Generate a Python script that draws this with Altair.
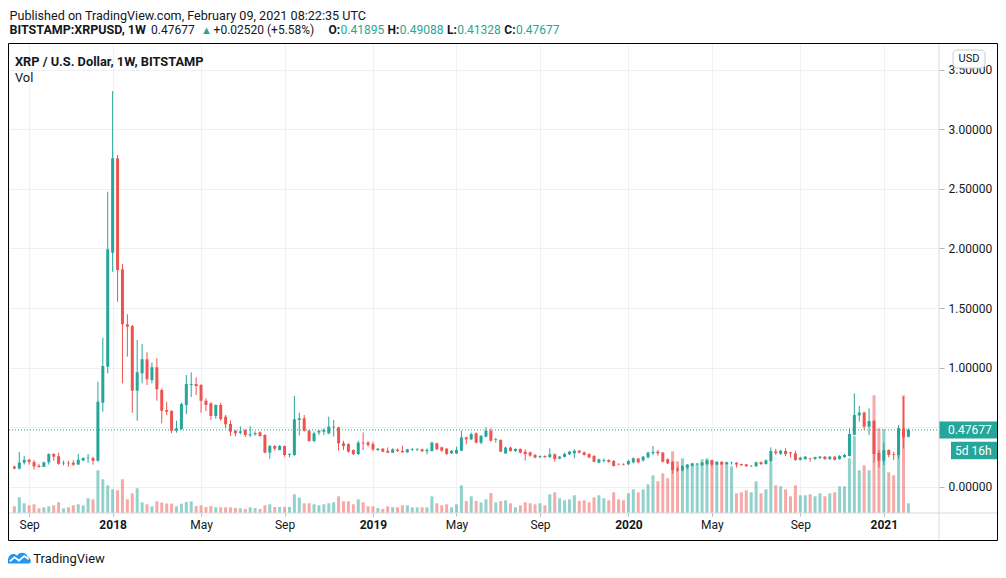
import altair as alt
import pandas as pd

# ---------------- data (weekly XRP/USD, Bitstamp) ----------------
week_start = "2017-08-14"

opens = [0.168, 0.152, 0.202, 0.226, 0.207, 0.176, 0.166, 0.205, 0.275, 0.256,
         0.196, 0.201, 0.201, 0.186, 0.220, 0.240, 0.241, 0.218, 0.705, 1.008,
         1.965, 2.757, 1.825, 1.364, 1.349, 0.806, 0.952, 1.070, 0.896, 1.003,
         0.812, 0.644, 0.636, 0.470, 0.484, 0.686, 0.854, 0.862, 0.854, 0.722,
         0.700, 0.594, 0.686, 0.588, 0.527, 0.470, 0.452, 0.476, 0.431, 0.440,
         0.457, 0.434, 0.286, 0.342, 0.308, 0.342, 0.268, 0.266, 0.560, 0.574,
         0.470, 0.384, 0.455, 0.462, 0.448, 0.498, 0.498, 0.364, 0.358, 0.308,
         0.274, 0.370, 0.370, 0.358, 0.308, 0.319, 0.302, 0.286, 0.311, 0.300,
         0.289, 0.310, 0.312, 0.314, 0.298, 0.300, 0.364, 0.331, 0.320, 0.280,
         0.280, 0.302, 0.414, 0.398, 0.448, 0.370, 0.420, 0.470, 0.392, 0.392,
         0.280, 0.328, 0.300, 0.317, 0.294, 0.289, 0.266, 0.250, 0.258, 0.248,
         0.272, 0.236, 0.250, 0.272, 0.280, 0.302, 0.289, 0.275, 0.258, 0.202,
         0.218, 0.224, 0.216, 0.191, 0.190, 0.188, 0.205, 0.236, 0.221, 0.246,
         0.282, 0.294, 0.286, 0.230, 0.208, 0.150, 0.138, 0.160, 0.176, 0.188,
         0.180, 0.190, 0.222, 0.186, 0.210, 0.190, 0.198, 0.202, 0.190, 0.188,
         0.172, 0.172, 0.206, 0.190, 0.212, 0.296, 0.277, 0.300, 0.288, 0.280,
         0.226, 0.232, 0.240, 0.232, 0.240, 0.252, 0.232, 0.252, 0.232, 0.248,
         0.258, 0.436, 0.598, 0.622, 0.504, 0.552, 0.285, 0.218, 0.308, 0.272,
         0.266, 0.490, 0.41895]

highs = [0.178, 0.291, 0.258, 0.235, 0.224, 0.193, 0.210, 0.280, 0.280, 0.285,
         0.218, 0.218, 0.224, 0.275, 0.245, 0.275, 0.252, 0.882, 1.251, 2.477,
         3.322, 2.785, 1.870, 1.448, 1.358, 1.232, 1.197, 1.129, 1.042, 1.079,
         0.826, 0.714, 0.642, 0.554, 0.705, 0.938, 0.960, 0.918, 0.862, 0.742,
         0.709, 0.690, 0.705, 0.602, 0.557, 0.476, 0.507, 0.482, 0.507, 0.465,
         0.465, 0.442, 0.350, 0.350, 0.350, 0.346, 0.280, 0.762, 0.622, 0.602,
         0.480, 0.462, 0.476, 0.490, 0.588, 0.560, 0.504, 0.386, 0.364, 0.314,
         0.386, 0.456, 0.384, 0.378, 0.325, 0.325, 0.330, 0.322, 0.322, 0.345,
         0.318, 0.325, 0.322, 0.320, 0.322, 0.378, 0.370, 0.336, 0.322, 0.308,
         0.336, 0.470, 0.420, 0.454, 0.456, 0.434, 0.499, 0.490, 0.410, 0.398,
         0.336, 0.336, 0.322, 0.322, 0.314, 0.294, 0.275, 0.261, 0.264, 0.322,
         0.280, 0.258, 0.286, 0.300, 0.314, 0.308, 0.294, 0.280, 0.266, 0.236,
         0.236, 0.230, 0.224, 0.196, 0.196, 0.224, 0.246, 0.242, 0.258, 0.294,
         0.342, 0.308, 0.292, 0.238, 0.216, 0.168, 0.180, 0.190, 0.200, 0.200,
         0.208, 0.226, 0.228, 0.212, 0.213, 0.210, 0.210, 0.206, 0.194, 0.190,
         0.180, 0.210, 0.212, 0.228, 0.330, 0.318, 0.310, 0.322, 0.294, 0.302,
         0.252, 0.258, 0.244, 0.252, 0.258, 0.258, 0.258, 0.258, 0.266, 0.275,
         0.490, 0.784, 0.678, 0.630, 0.658, 0.560, 0.308, 0.370, 0.314, 0.294,
         0.518, 0.756, 0.49088]

lows = [0.147, 0.145, 0.185, 0.185, 0.143, 0.160, 0.166, 0.185, 0.218, 0.185,
        0.179, 0.168, 0.174, 0.185, 0.214, 0.201, 0.185, 0.210, 0.630, 0.952,
        1.805, 1.553, 0.868, 1.092, 0.621, 0.554, 0.868, 0.854, 0.868, 0.722,
        0.532, 0.602, 0.449, 0.454, 0.479, 0.610, 0.753, 0.770, 0.621, 0.635,
        0.560, 0.571, 0.554, 0.490, 0.425, 0.423, 0.440, 0.418, 0.418, 0.428,
        0.420, 0.281, 0.235, 0.302, 0.305, 0.252, 0.247, 0.258, 0.430, 0.462,
        0.378, 0.372, 0.434, 0.434, 0.440, 0.420, 0.302, 0.308, 0.286, 0.266,
        0.266, 0.308, 0.336, 0.300, 0.300, 0.290, 0.281, 0.283, 0.292, 0.285,
        0.285, 0.300, 0.300, 0.292, 0.272, 0.294, 0.308, 0.294, 0.266, 0.275,
        0.275, 0.300, 0.356, 0.392, 0.364, 0.356, 0.414, 0.378, 0.370, 0.291,
        0.275, 0.294, 0.291, 0.280, 0.219, 0.252, 0.238, 0.238, 0.243, 0.243,
        0.210, 0.230, 0.246, 0.266, 0.238, 0.280, 0.261, 0.238, 0.205, 0.196,
        0.202, 0.202, 0.168, 0.180, 0.180, 0.182, 0.196, 0.196, 0.210, 0.238,
        0.266, 0.261, 0.205, 0.191, 0.107, 0.126, 0.130, 0.145, 0.170, 0.180,
        0.174, 0.178, 0.168, 0.182, 0.184, 0.185, 0.185, 0.160, 0.177, 0.167,
        0.165, 0.168, 0.182, 0.186, 0.198, 0.266, 0.266, 0.258, 0.246, 0.216,
        0.220, 0.226, 0.210, 0.226, 0.233, 0.226, 0.226, 0.220, 0.226, 0.244,
        0.252, 0.430, 0.546, 0.476, 0.434, 0.202, 0.163, 0.182, 0.246, 0.224,
        0.238, 0.322, 0.41328]

closes = [0.152, 0.202, 0.226, 0.207, 0.170, 0.165, 0.205, 0.275, 0.252, 0.192,
          0.201, 0.196, 0.185, 0.226, 0.241, 0.245, 0.218, 0.714, 1.013, 1.993,
          2.757, 1.819, 1.364, 1.343, 0.806, 0.961, 1.070, 0.902, 1.003, 0.818,
          0.638, 0.630, 0.470, 0.490, 0.694, 0.862, 0.862, 0.845, 0.722, 0.686,
          0.594, 0.686, 0.568, 0.524, 0.462, 0.448, 0.465, 0.434, 0.440, 0.450,
          0.426, 0.286, 0.342, 0.319, 0.342, 0.266, 0.275, 0.566, 0.574, 0.468,
          0.384, 0.448, 0.470, 0.476, 0.504, 0.504, 0.364, 0.342, 0.294, 0.274,
          0.370, 0.364, 0.350, 0.314, 0.319, 0.294, 0.286, 0.314, 0.300, 0.289,
          0.314, 0.315, 0.318, 0.298, 0.308, 0.370, 0.314, 0.302, 0.275, 0.302,
          0.308, 0.414, 0.398, 0.442, 0.370, 0.426, 0.470, 0.386, 0.398, 0.294,
          0.328, 0.300, 0.317, 0.286, 0.272, 0.261, 0.244, 0.258, 0.248, 0.272,
          0.233, 0.252, 0.275, 0.294, 0.302, 0.286, 0.266, 0.246, 0.210, 0.230,
          0.224, 0.208, 0.174, 0.188, 0.186, 0.216, 0.238, 0.205, 0.252, 0.286,
          0.292, 0.280, 0.210, 0.196, 0.140, 0.138, 0.172, 0.182, 0.196, 0.194,
          0.202, 0.222, 0.186, 0.210, 0.187, 0.205, 0.202, 0.186, 0.180, 0.172,
          0.176, 0.205, 0.190, 0.222, 0.300, 0.282, 0.302, 0.274, 0.280, 0.224,
          0.244, 0.252, 0.236, 0.248, 0.252, 0.232, 0.252, 0.226, 0.258, 0.266,
          0.442, 0.602, 0.622, 0.504, 0.552, 0.274, 0.218, 0.308, 0.266, 0.266,
          0.490, 0.414, 0.47677]

# relative weekly volume (read as bar heights)
volumes = [6.7, 15.7, 9.7, 7.7, 8.7, 4.7, 5.7, 6.7, 7.7, 10.7,
           4.7, 5.7, 7.7, 8.7, 7.7, 14.7, 13.7, 42.7, 33.7, 27.7,
           23.7, 22.7, 33.7, 13.7, 19.7, 24.7, 10.7, 8.7, 6.7, 11.7,
           10.5, 9.5, 9.5, 6.7, 9.3, 11.0, 11.7, 7.0, 7.7, 6.0,
           7.0, 5.7, 5.7, 5.7, 5.7, 5.0, 4.7, 4.0, 5.7, 5.0,
           4.0, 7.7, 8.7, 6.0, 6.0, 6.0, 6.0, 18.7, 15.3, 9.7,
           9.7, 8.7, 7.7, 8.7, 9.7, 10.7, 16.7, 11.7, 11.7, 8.7,
           13.7, 10.7, 6.7, 6.7, 5.0, 4.0, 6.7, 5.8, 5.7, 7.7,
           7.7, 5.7, 5.7, 5.7, 5.7, 16.7, 9.7, 7.7, 8.7, 5.7,
           8.7, 27.7, 12.0, 16.7, 12.0, 10.7, 13.7, 20.0, 10.7, 12.0,
           12.7, 9.7, 5.7, 7.7, 10.7, 9.7, 8.7, 9.7, 7.7, 18.7,
           20.7, 14.7, 12.7, 13.7, 17.7, 12.2, 12.7, 10.7, 15.7, 17.7,
           14.7, 12.7, 20.7, 13.7, 12.7, 19.7, 23.7, 20.7, 23.7, 28.7,
           37.7, 31.7, 39.7, 34.7, 61.7, 51.7, 54.7, 48.7, 48.7, 48.7,
           53.7, 54.7, 52.7, 50.7, 50.7, 50.7, 46.7, 19.7, 20.7, 22.7,
           20.7, 31.7, 19.7, 23.7, 50.0, 27.7, 26.7, 23.7, 16.7, 27.7,
           17.7, 17.7, 18.7, 16.7, 19.7, 16.7, 19.7, 20.7, 26.7, 26.7,
           54.7, 76.7, 42.7, 47.7, 42.7, 117.7, 84.7, 83.7, 40.7, 37.7,
           84.7, 117.7, 9.7]

price_ticks = [0.0, 0.5, 1.0, 1.5, 2.0, 2.5, 3.0, 3.5]
time_ticks = ["2017-09-04", "2018-01-01", "2018-05-07", "2018-09-03", "2019-01-07",
              "2019-05-06", "2019-09-02", "2020-01-06", "2020-05-04", "2020-09-07",
              "2021-01-04"]

# ---------------- styling ----------------
UP = "#26a69a"
DOWN = "#ef5350"
TXT = "#131722"
GRID = "#eef0f4"
SEP = "#d6d9e0"
FONT = "Roboto"

n = len(closes)
dates = pd.date_range(week_start, periods=n, freq="7D").strftime("%Y-%m-%dT00:00:00Z")
df = pd.DataFrame({"date": list(dates), "open": opens, "high": highs, "low": lows,
                   "close": closes, "volume": volumes})
df["dir"] = ["up" if c >= o else "down" for o, c in zip(opens, closes)]


def ms(s):
    return int(pd.Timestamp(s, tz="UTC").value // 10**6)


W, H = 930, 470
xscale = alt.Scale(type="utc", domain=[ms("2017-08-13 10:19"), ms("2021-03-16 12:00")])
pscale = alt.Scale(domain=[-0.2208, 3.7254], nice=False, zero=False)
vscale = alt.Scale(domain=[0, 470], nice=False, zero=True)
cscale = alt.Scale(domain=["up", "down"], range=[UP, DOWN])

x_axis = alt.Axis(
    values=[ms(d) for d in time_ticks],
    labelExpr="utcmonth(datum.value) == 0 ? utcFormat(datum.value, '%Y') : utcFormat(datum.value, '%b')",
    labelFontWeight={"condition": {"test": "utcmonth(datum.value) == 0", "value": "bold"},
                     "value": "normal"},
    grid=True, gridColor=GRID, domain=False, ticks=True, tickSize=3, tickColor="#b2b5be",
    labelFont=FONT, labelFontSize=12, labelColor=TXT, labelPadding=3,
    labelFlush=False, labelOverlap=False, title=None)

# the 0.5 label sits under the last-price tag (hidden there in the original as well)
p_axis = alt.Axis(
    orient="right", values=price_ticks,
    labelExpr=f"abs(datum.value - {closes[-1]}) < 0.1 ? '' : format(datum.value, '.5f')",
    grid=True, gridColor=GRID,
    domain=False, ticks=True, tickSize=5, tickColor="#b2b5be",
    labelFont=FONT, labelFontSize=12, labelColor=TXT, labelPadding=4, title=None)

X = alt.X("date:T", scale=xscale, axis=x_axis)
color = alt.Color("dir:N", scale=cscale, legend=None)

vol = alt.Chart(df).mark_bar(size=3, opacity=0.5).encode(
    x=X, y=alt.Y("volume:Q", scale=vscale, axis=None), color=color)

wicks = alt.Chart(df).mark_rule(strokeWidth=1).encode(
    x=X, y=alt.Y("low:Q", scale=pscale, axis=p_axis), y2="high:Q", color=color)

bodies = alt.Chart(df).mark_bar(size=3).encode(
    x=X, y=alt.Y("open:Q", scale=pscale, axis=p_axis), y2="close:Q", color=color)

last = pd.DataFrame({"c": [closes[-1]]})
last_line = alt.Chart(last).mark_rule(color=UP, strokeDash=[1, 2], strokeWidth=1).encode(
    y=alt.Y("c:Q", scale=pscale, axis=p_axis), x=alt.value(0), x2=alt.value(W))
last_box = alt.Chart(last).mark_rect(color=UP, yOffset=-8.5, y2Offset=8.5).encode(
    y=alt.Y("c:Q", scale=pscale, axis=p_axis), y2="c:Q", x=alt.value(W), x2=alt.value(989))
last_txt = alt.Chart(last).mark_text(color="white", font=FONT, fontSize=12, align="left",
                                     baseline="middle", text=f"{closes[-1]:.5f}").encode(
    y=alt.Y("c:Q", scale=pscale, axis=p_axis), x=alt.value(939))
timer_box = alt.Chart(last).mark_rect(color=UP, yOffset=11.8, y2Offset=29.4).encode(
    y=alt.Y("c:Q", scale=pscale, axis=p_axis), y2="c:Q", x=alt.value(942), x2=alt.value(989))
timer_txt = alt.Chart(last).mark_text(color="white", font=FONT, fontSize=12, align="left",
                                      baseline="middle", yOffset=20.6, text="5d 16h").encode(
    y=alt.Y("c:Q", scale=pscale, axis=p_axis), x=alt.value(946))

price = alt.layer(wicks, bodies, last_line, last_box, last_txt, timer_box, timer_txt)

one = pd.DataFrame({"k": [0]})


def label(text, x, y, size=12, weight="normal", col=TXT, align="left", baseline="alphabetic"):
    return alt.Chart(one).mark_text(text=text, font=FONT, fontSize=size, fontWeight=weight,
                                    color=col, align=align, baseline=baseline).encode(
        x=alt.value(x), y=alt.value(y))


texts = [
    label("Published on TradingView.com, February 09, 2021 08:22:35 UTC", 0.5, -23.0, size=12.6),
    label("BITSTAMP:XRPUSD, 1W", 0.5, -8.7, size=12.5, weight="bold"),
    label(f"{closes[-1]:.5f}", 142, -8.7),
    label("\u25b2", 192, -8.7, size=11, col=UP),
    label("+0.02520 (+5.58%)", 204.6, -8.7),
    label("O:", 319.4, -8.7, weight="bold"),
    label(f"{opens[-1]:.5f}", 331.5, -8.7, col=UP),
    label("H:", 378.6, -8.7, weight="bold"),
    label(f"{highs[-1]:.5f}", 390.8, -8.7, col=UP),
    label("L:", 437.9, -8.7, weight="bold"),
    label(f"{lows[-1]:.5f}", 448.2, -8.7, col=UP),
    label("C:", 495.3, -8.7, weight="bold"),
    label(f"{closes[-1]:.5f}", 506.9, -8.7, col=UP),
    label("XRP / U.S. Dollar, 1W, BITSTAMP", 6, 22.7, size=12.8, weight="bold"),
    label("Vol", 6, 39.3, size=12.8),
    label("TradingView", 24.3, 520.3, size=13),
]

# frame and separators
frame = alt.Chart(one).mark_rect(fillOpacity=0, stroke="#000000", strokeWidth=1).encode(
    x=alt.value(-0.5), x2=alt.value(988.5), y=alt.value(0.5), y2=alt.value(497.5))
hsep = alt.Chart(one).mark_rule(color=SEP, strokeWidth=1).encode(
    x=alt.value(0), x2=alt.value(988.5), y=alt.value(H))
vsep = alt.Chart(one).mark_rule(color=SEP, strokeWidth=1).encode(
    x=alt.value(W), y=alt.value(0.5), y2=alt.value(497.5))

usd_box = alt.Chart(one).mark_rect(fill="white", stroke="#c9ccd3", strokeWidth=1,
                                   cornerRadius=4).encode(
    x=alt.value(944), x2=alt.value(976), y=alt.value(7), y2=alt.value(25))
usd_txt = label("USD", 960, 16, size=11, align="center", baseline="middle")

cloud = ("M-0.85,0.42 C-1.05,0.42 -1.05,0.05 -0.8,0.02 C-0.8,-0.3 -0.35,-0.42 -0.15,-0.18 "
         "C0.0,-0.5 0.6,-0.5 0.65,-0.05 C0.95,-0.05 1.0,0.42 0.75,0.42 Z")
zig = "M-0.7,0.25 L-0.35,-0.05 L0.0,0.2 L0.4,-0.15 L0.75,0.1"
logo = alt.Chart(one).mark_point(shape=cloud, size=676, filled=True, color="#2196f3",
                                 opacity=1).encode(x=alt.value(10), y=alt.value(515))
logo_zig = alt.Chart(one).mark_point(shape=zig, size=676, filled=False, color="white",
                                     strokeWidth=1.8, opacity=1).encode(
    x=alt.value(10), y=alt.value(515))

chart = alt.layer(
    vol, price, hsep, vsep, frame, usd_box, usd_txt, logo, logo_zig, *texts
).resolve_scale(y="independent").properties(
    width=W, height=H,
    padding={"left": 1, "top": 35, "right": 59, "bottom": 57},
    autosize=alt.AutoSizeParams(type="none"),
    background="white",
).configure_view(stroke=None)

chart.save("out.html", embed_options={"renderer": "svg", "actions": False})
